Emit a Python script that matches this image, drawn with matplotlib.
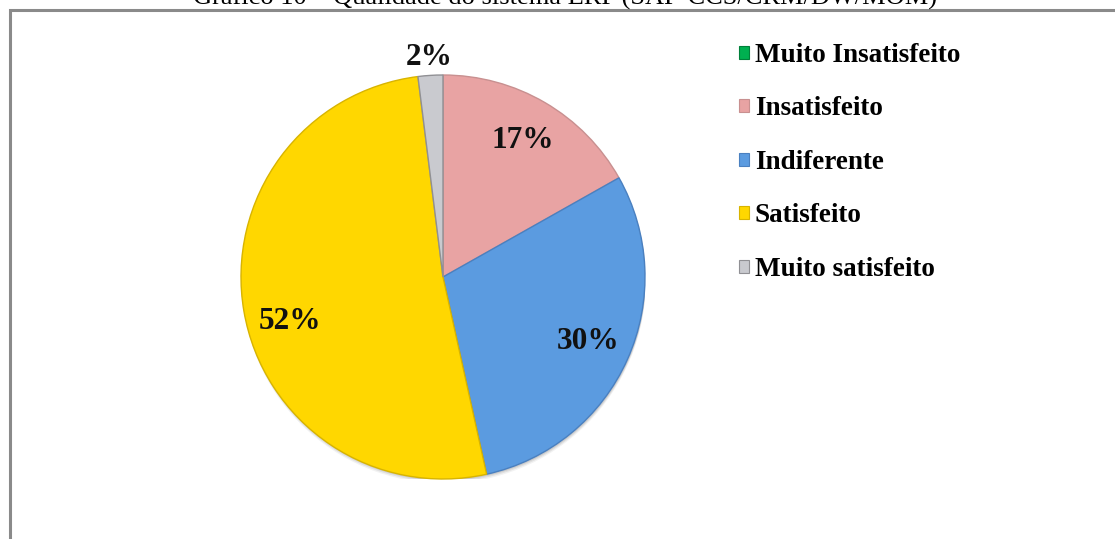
import numpy as np
import matplotlib
matplotlib.use('Agg')
import matplotlib.pyplot as plt
from matplotlib.patches import Circle

# Survey answers (% of respondents)
categories = ['Muito Insatisfeito', 'Insatisfeito', 'Indiferente', 'Satisfeito', 'Muito satisfeito']
values = [0, 17, 30, 52, 2]
colors = ['#00B050', '#E8A3A3', '#5B9BE0', '#FFD700', '#C9CACF']
edges = ['#00803A', '#C89090', '#4A80C0', '#D8B400', '#909094']

W, H = 1115, 539
fig = plt.figure(figsize=(W / 100, H / 100), dpi=100)
fig.patch.set_facecolor('white')

serif = 'Liberation Serif'

# Caption sits above the frame and is clipped at the top edge
fig.text(565 / W, 1 - 5 / H, 'Gráfico 10 – Qualidade do sistema ERP (SAP-CCS/CRM/DW/MOM)',
         ha='center', va='baseline', family=serif, fontsize=19, color='black')

# Chart frame (right and bottom edges are outside the image)
frame = plt.Rectangle((9.5 / W, -0.1), 1.2, 1 - 9.5 / H + 0.1, transform=fig.transFigure,
                      fill=False, edgecolor='#8A8A8A', linewidth=2.2)
fig.patches.append(frame)

# Pie axes: centre (443, 277) px, radius 202 px
cx, cy, r = 443, 277, 202
ax = fig.add_axes([(cx - r) / W, (H - cy - r) / H, 2 * r / W, 2 * r / H])

# soft shadow under the pie
for k, a in [(0.022, 0.05), (0.015, 0.07), (0.008, 0.09)]:
    ax.add_patch(Circle((0.004, -k), 1.0, facecolor='black', edgecolor='none',
                        alpha=a, zorder=0))

wedges, _ = ax.pie(values, colors=colors, startangle=90, counterclock=False,
                   radius=1, wedgeprops=dict(linewidth=1.0))
for w, ec in zip(wedges, edges):
    w.set_edgecolor(ec)
    w.set_zorder(2)
ax.set_xlim(-1, 1)
ax.set_ylim(-1, 1)
ax.set_aspect('equal')
ax.axis('off')

# Percentage labels inside slices, the small one above the pie
label_dist = [0.785, 0.785, 0.785, 0.79, 1.09]
label_turn = [0, 0, 0, 6.5, 0]
for w, v, d, t in zip(wedges, values, label_dist, label_turn):
    if v == 0:
        continue
    theta = np.deg2rad((w.theta1 + w.theta2) / 2 + t)
    ax.text(d * np.cos(theta), d * np.sin(theta), f'{v}%',
            ha='center', va='center', family=serif, fontweight='bold',
            fontsize=22.5, color='#111111', clip_on=False, zorder=5)

leg = fig.legend(wedges, categories, loc='upper left',
                 bbox_to_anchor=(739 / W, 1 - 43 / H), frameon=False,
                 prop=dict(family=serif, weight='bold', size=19.5),
                 handlelength=0.36, handleheight=0.36, handletextpad=0.22,
                 labelspacing=1.05, borderpad=0, borderaxespad=0)
for h in leg.legend_handles:
    h.set_linewidth(0.8)

fig.savefig('out.png', dpi=100)
